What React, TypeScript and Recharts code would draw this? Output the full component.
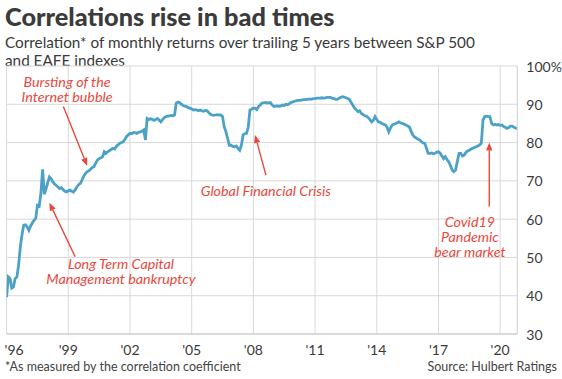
import React from 'react';
import { LineChart, Line, XAxis, YAxis, CartesianGrid, ReferenceLine, ReferenceDot } from 'recharts';

// Monthly correlation values, starting January 1996
const startYear = 1996;
const corrValues: number[] = [
  39.6, 44.9, 44.5, 42.0, 42.3, 44.5, 44.9, 48.0, 52.7, 56.0, 58.4, 58.5,
  58.0, 57.1, 58.2, 59.0, 59.7, 60.2, 63.6, 63.4, 66.7, 73.0, 66.5, 68.0,
  69.5, 71.0, 70.5, 69.7, 69.2, 68.8, 68.4, 68.0, 68.2, 67.7, 67.3, 67.1,
  67.4, 67.6, 67.3, 67.1, 67.6, 68.4, 69.0, 69.3, 70.2, 71.2, 71.9, 72.4,
  72.6, 73.0, 73.5, 73.7, 74.6, 75.4, 75.8, 76.0, 76.3, 77.6, 77.2, 77.6,
  77.9, 78.2, 78.5, 78.3, 79.0, 79.4, 79.8, 80.0, 80.2, 80.8, 81.6, 82.0,
  82.4, 82.3, 82.6, 82.6, 82.4, 82.7, 82.8, 83.0, 83.3, 80.7, 86.3, 86.0,
  86.2, 86.1, 85.8, 86.0, 86.3, 85.9, 85.4, 86.0, 86.5, 86.8, 86.9, 87.0,
  87.1, 87.0, 87.2, 90.3, 90.6, 90.4, 90.0, 89.7, 89.5, 89.4, 89.1, 89.0,
  88.8, 88.5, 88.6, 88.5, 88.3, 88.5, 88.3, 88.2, 88.4, 88.3, 87.8, 87.4,
  87.2, 87.1, 87.2, 87.3, 87.2, 87.2, 86.8, 84.1, 82.8, 81.0, 79.3, 79.3,
  79.0, 78.9, 79.1, 78.5, 78.0, 79.3, 82.0, 82.3, 82.4, 84.0, 88.5, 88.7,
  89.0, 89.0, 88.6, 89.4, 89.8, 90.3, 90.4, 90.5, 90.3, 90.4, 90.4, 89.8,
  89.4, 89.5, 89.6, 89.5, 89.6, 89.8, 89.7, 90.0, 89.9, 90.1, 90.5, 90.6,
  90.8, 90.9, 91.0, 91.0, 91.1, 91.2, 91.2, 91.3, 91.3, 91.4, 91.3, 91.5,
  91.5, 91.6, 91.6, 91.6, 91.7, 91.6, 91.7, 91.8, 91.8, 91.8, 91.6, 91.5,
  91.3, 91.3, 91.6, 91.8, 92.0, 91.9, 91.7, 91.5, 91.3, 90.5, 89.8, 89.0,
  88.6, 88.1, 88.3, 87.6, 87.3, 87.0, 86.9, 86.5, 86.0, 85.4, 85.8, 86.8,
  86.0, 85.4, 85.3, 85.0, 84.8, 84.6, 84.0, 82.8, 83.8, 84.6, 84.8, 85.0,
  85.2, 85.4, 85.1, 85.0, 84.8, 84.6, 84.3, 84.1, 83.0, 82.0, 81.5, 81.2,
  80.9, 80.7, 80.3, 79.9, 79.8, 78.5, 77.2, 77.2, 77.3, 77.1, 77.2, 77.5,
  77.6, 77.2, 76.5, 75.8, 76.3, 75.5, 75.0, 74.0, 72.8, 72.4, 72.8, 75.0,
  77.2, 77.2, 76.5, 76.7, 77.4, 77.8, 78.0, 78.3, 78.5, 78.7, 78.9, 79.1,
  79.4, 79.8, 85.9, 86.8, 86.9, 86.8, 86.8, 85.0, 84.6, 84.8, 84.6, 84.7,
  84.5, 84.6, 84.2, 84.0, 83.7, 83.9, 84.3, 84.3, 84.0, 83.8, 83.7,
];

const xTicks = [1996, 1999, 2002, 2005, 2008, 2011, 2014, 2017, 2020];
const xTickLabels = ["'96", "'99", "'02", "'05", "'08", "'11", "'14", "'17", "'20"];
const yTicks = [30, 40, 50, 60, 70, 80, 90, 100];
const yTickLabels = ['30', '40', '50', '60', '70', '80', '90', '100%'];

// Annotations in data units (year, correlation)
const annTexts = [
  { x: 1998.94, y: 95.9, lines: ['Bursting of the', 'Internet bubble'] },
  { x: 2001.56, y: 48.5, lines: ['Long Term Capital', 'Management bankruptcy'] },
  { x: 2008.61, y: 67.4, lines: ['Global Financial Crisis'] },
  { x: 2018.53, y: 59.5, lines: ['Covid19', 'Pandemic', 'bear market'] },
];
const annArrows = [
  { x1: 1998.76, y1: 89.4, x2: 1999.92, y2: 73.9 },
  { x1: 1999.33, y1: 50.2, x2: 1998.08, y2: 64.3 },
  { x1: 2008.61, y1: 71.5, x2: 2008.08, y2: 82.0 },
  { x1: 2019.47, y1: 63.3, x2: 2019.47, y2: 80.0 },
];

const data = corrValues.map((v, i) => ({ t: startYear + i / 12, v }));
const xMax = startYear + (corrValues.length - 1) / 12;

const RED = '#e9483d';
const TEXT = '#3a3a3a';
const GRID = '#d9d9d9';
const FONT = 'Lato, "Open Sans", sans-serif';

const XTick = (props: any) => {
  const { x, y, payload, index } = props;
  const i = xTicks.indexOf(payload.value);
  const first = index === 0;
  return (
    <text x={first ? x - 2 : x} y={y + 15} textAnchor={first ? 'start' : 'middle'} dominantBaseline="central"
      fontFamily={FONT} fontSize={14} fill={TEXT}>
      {xTickLabels[i >= 0 ? i : 0]}
    </text>
  );
};

const YTick = (props: any) => {
  const { x, y, payload } = props;
  const i = yTicks.indexOf(payload.value);
  return (
    <text x={x + 9} y={y} textAnchor="start" dominantBaseline="central"
      fontFamily={FONT} fontSize={14} fill={TEXT}>
      {yTickLabels[i]}
    </text>
  );
};

const arrowShape = (p: any) => {
  const { x1, y1, x2, y2 } = p;
  const dx = x2 - x1, dy = y2 - y1;
  const len = Math.sqrt(dx * dx + dy * dy) || 1;
  const ux = dx / len, uy = dy / len;
  const hl = 8, hw = 3.2;
  const bx = x2 - ux * hl, by = y2 - uy * hl;
  const pts = `${x2},${y2} ${bx - uy * hw},${by + ux * hw} ${bx + uy * hw},${by - ux * hw}`;
  return (
    <g>
      <line x1={x1} y1={y1} x2={bx} y2={by} stroke={RED} strokeWidth={1.4} />
      <polygon points={pts} fill={RED} />
    </g>
  );
};

const makeTextShape = (lines: string[]) => (p: any) => {
  const { cx, cy } = p;
  return (
    <text x={cx} y={cy} textAnchor="middle" fontFamily={FONT} fontStyle="italic" fontSize={14.3} fill={RED}>
      {lines.map((l, k) => (
        <tspan key={k} x={cx} y={cy + k * 15} dominantBaseline="central">{l}</tspan>
      ))}
    </text>
  );
};

export default function App() {
  return (
    <div style={{ position: 'absolute', left: 0, top: 0, width: 562, height: 379, background: '#fff', fontFamily: FONT, color: TEXT }}>
      <div style={{ position: 'absolute', left: 5, top: 1, fontSize: 25.3, lineHeight: '30px', fontWeight: 900, whiteSpace: 'nowrap', color: '#3b3b3b' }}>
        Correlations rise in bad times
      </div>
      <div style={{ position: 'absolute', left: 5, top: 33, fontSize: 15.3, lineHeight: '18px', whiteSpace: 'nowrap', color: TEXT }}>
        Correlation* of monthly returns over trailing 5 years between S&amp;P 500<br />and EAFE indexes
      </div>
      <div style={{ position: 'absolute', left: 0, top: 0 }}>
        <LineChart width={562} height={379} data={data} margin={{ top: 66, right: 0, bottom: 0, left: 6.6 }}>
          <CartesianGrid stroke={GRID} strokeWidth={1} />
          <XAxis dataKey="t" type="number" domain={[startYear, xMax]} ticks={xTicks} allowDataOverflow
            height={45} axisLine={{ stroke: '#c8c8c8' }} tickLine={false} tickSize={0} tickMargin={0}
            tick={<XTick />} interval={0} />
          <YAxis orientation="right" type="number" domain={[30, 100]} ticks={yTicks} width={44.7}
            axisLine={{ stroke: GRID }} tickLine={false} tickSize={0} tickMargin={0} tick={<YTick />} interval={0} />
          <Line dataKey="v" type="linear" stroke="#4ca2c6" strokeWidth={2.8} dot={false} isAnimationActive={false} />
          {annArrows.map((a, k) => (
            <ReferenceLine key={'a' + k} segment={[{ x: a.x1, y: a.y1 }, { x: a.x2, y: a.y2 }]} shape={arrowShape} ifOverflow="visible" />
          ))}
          {annTexts.map((a, k) => (
            <ReferenceDot key={'t' + k} x={a.x} y={a.y} r={0} shape={makeTextShape(a.lines)} ifOverflow="visible" />
          ))}
        </LineChart>
      </div>
      <div style={{ position: 'absolute', left: 5, top: 359, fontSize: 12.5, lineHeight: '16px', whiteSpace: 'nowrap', color: '#444' }}>
        *As measured by the correlation coefficient
      </div>
      <div style={{ position: 'absolute', right: 5, top: 359, fontSize: 12.5, lineHeight: '16px', whiteSpace: 'nowrap', color: '#444' }}>
        Source: Hulbert Ratings
      </div>
    </div>
  );
}
